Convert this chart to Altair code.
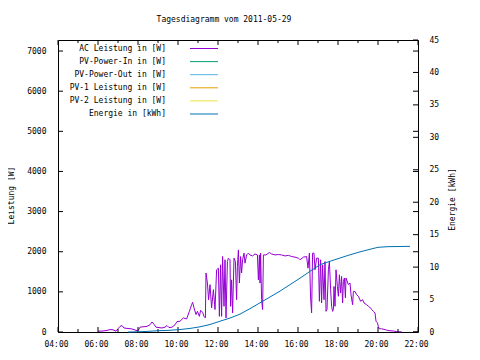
import altair as alt
import pandas as pd

# ---- data ----
ac_hours = [6.0, 6.25, 6.45, 6.6, 6.75, 6.9, 7.0, 7.1, 7.2, 7.3, 7.45, 7.65, 7.8, 7.9, 8.0, 8.1, 8.25, 8.45,
            8.6, 8.7, 8.8, 8.9, 9.05, 9.2, 9.35, 9.45, 9.55, 9.7, 9.85, 9.95, 10.1, 10.27, 10.43, 10.57, 10.68,
            10.73, 10.8, 10.9, 10.97, 11.07, 11.13, 11.23, 11.3, 11.37, 11.4, 11.47, 11.53, 11.6, 11.68, 11.77,
            11.85, 11.93, 12.02, 12.07, 12.13, 12.18, 12.23, 12.3, 12.35, 12.4, 12.47, 12.52, 12.6, 12.63, 12.68,
            12.73, 12.8, 12.87, 12.93, 12.97, 13.02, 13.07, 13.13, 13.18, 13.23, 13.3, 13.35, 13.43, 13.52, 13.6,
            13.73, 13.85, 13.97, 14.02, 14.07, 14.1, 14.13, 14.18, 14.23, 14.27, 14.4, 14.57, 14.68, 14.85, 15.02,
            15.18, 15.35, 15.52, 15.68, 15.85, 16.02, 16.1, 16.27, 16.43, 16.5, 16.57, 16.63, 16.68, 16.73, 16.8,
            16.85, 16.93, 17.02, 17.07, 17.13, 17.18, 17.23, 17.3, 17.35, 17.4, 17.45, 17.52, 17.57, 17.63, 17.68,
            17.73, 17.77, 17.8, 17.85, 17.9, 17.97, 18.02, 18.07, 18.13, 18.18, 18.23, 18.27, 18.32, 18.37, 18.4,
            18.52, 18.6, 18.65, 18.73, 18.77, 18.85, 18.93, 19.02, 19.13, 19.23, 19.3, 19.43, 19.52, 19.63, 19.68,
            19.77, 19.85, 19.9, 19.97, 20.02, 20.07, 20.18, 20.35, 20.43, 20.6, 20.77, 20.93, 21.1, 21.18]
ac_watts = [20, 25, 40, 60, 55, 20, 80, 140, 160, 100, 90, 80, 60, 40, 30, 120, 130, 140,
            180, 250, 190, 120, 110, 100, 120, 160, 110, 120, 180, 260, 268, 350, 325, 515, 680,
            740, 600, 435, 515, 390, 540, 490, 390, 350, 1470, 1220, 805, 1180, 600, 1055,
            560, 1550, 1590, 390, 1675, 390, 1880, 640, 1800, 350, 1755, 1840, 1800, 640, 1300,
            475, 1840, 1755, 805, 1630, 2045, 1220, 1880, 1470, 1800, 1965, 1715, 1920, 1965, 1920,
            1895, 1945, 1920, 1300, 1920, 1220, 1965, 805, 560, 1920, 1920, 1980, 1945, 1920, 1930,
            1920, 1895, 1910, 1880, 1865, 1840, 1800, 1865, 1880, 1590, 1965, 850, 475, 1965, 1965,
            1550, 1840, 1840, 765, 1800, 725, 1675, 805, 1755, 515, 560, 1550, 1755, 1055, 640,
            515, 560, 1135, 640, 1550, 1135, 890, 1425, 970, 1385, 725, 1260, 1345, 850, 1345,
            1180, 1220, 930, 680, 1010, 1010, 930, 890, 765, 805, 725, 680, 640, 600, 560,
            515, 475, 270, 230, 130, 80, 80, 60, 45, 30, 25, 10, 5, 5]

en_hours = [7.5, 8.0, 8.5, 9.0, 9.5, 10.1, 10.6, 11.1, 11.6, 12.1, 12.6, 13.1, 13.6, 14.1, 14.6, 15.1,
            15.6, 16.1, 16.6, 17.1, 17.6, 18.1, 18.6, 19.1, 19.6, 20.0, 20.5, 21.6]
en_kwh = [0.0, 0.03, 0.1, 0.2, 0.25, 0.38, 0.55, 0.8, 1.15, 1.66, 2.15, 2.75, 3.6, 4.5, 5.4, 6.3,
          7.3, 8.3, 9.35, 10.38, 10.9, 11.4, 11.9, 12.35, 12.75, 13.05, 13.15, 13.2]

legend_names = ["AC Leistung in [W]", "PV-Power-In in [W]", "PV-Power-Out in [W]",
                "PV-1 Leistung in [W]", "PV-2 Leistung in [W]", "Energie in [kWh]"]
legend_colors = ["#9400D3", "#009E73", "#56B4E9", "#E69F00", "#F0E442", "#0072B2"]

x_major = [4, 6, 8, 10, 12, 14, 16, 18, 20, 22]
x_minor = [5, 7, 9, 11, 13, 15, 17, 19, 21]
w_ticks = [0, 1000, 2000, 3000, 4000, 5000, 6000, 7000]
e_ticks = [0, 5, 10, 15, 20, 25, 30, 35, 40, 45]

FONT = "DejaVu Sans Mono"
W, H = 360, 292

ac_df = pd.DataFrame({"h": ac_hours, "w": ac_watts})
en_df = pd.DataFrame({"h": en_hours, "e": en_kwh})
leg_df = pd.DataFrame({"name": legend_names, "color": legend_colors})
xmaj_df = pd.DataFrame({"h": x_major})
xmin_df = pd.DataFrame({"h": x_minor})
wt_df = pd.DataFrame({"w": w_ticks})
et_df = pd.DataFrame({"e": e_ticks})

x_scale = alt.Scale(domain=[4, 22], nice=False, zero=False)
x_axis = alt.Axis(values=x_major, labelExpr="(datum.value < 10 ? '0' : '') + datum.value + ':00'",
                  ticks=False, domain=False, grid=False, title=None, labelPadding=8,
                  labelFont=FONT, labelFontSize=8, labelColor="black", labelOffset=-2,
                  labelFlush=False, labelOverlap=False)
xenc = alt.X("h:Q", scale=x_scale, axis=x_axis)

w_scale = alt.Scale(domain=[0, 7275], nice=False)
w_axis = alt.Axis(orient="left", values=w_ticks, format="d", ticks=False, domain=False, grid=False,
                  title="Leistung [W]", titleFont=FONT, titleFontSize=8, titleFontWeight="normal",
                  titleAngle=270, titleX=-47, titleY=155, titleAlign="center", titleBaseline="middle",
                  labelFont=FONT, labelFontSize=8, labelPadding=12, labelColor="black",
                  labelFlush=False, labelOverlap=False)
wenc = alt.Y("w:Q", scale=w_scale, axis=w_axis)

e_scale = alt.Scale(domain=[0, 45], nice=False)
e_axis = alt.Axis(orient="right", values=e_ticks, format="d", ticks=False, domain=False, grid=False,
                  title="Energie [kWh]", titleFont=FONT, titleFontSize=8, titleFontWeight="normal",
                  titleAngle=270, titleX=34, titleY=159, titleAlign="center", titleBaseline="middle",
                  labelFont=FONT, labelFontSize=8, labelPadding=11, labelColor="black",
                  labelFlush=False, labelOverlap=False)
eenc = alt.Y("e:Q", scale=e_scale, axis=e_axis)

# x ticks (bottom and top, inward)
def xticks(df, length):
    bottom = alt.Chart(df).mark_rule(color="black", strokeWidth=1).encode(
        x=xenc, y=alt.value(H), y2=alt.value(H - length))
    top = alt.Chart(df).mark_rule(color="black", strokeWidth=1).encode(
        x=xenc, y=alt.value(0), y2=alt.value(length))
    return [bottom, top]

ac_line = alt.Chart(ac_df).mark_line(color="#9400D3", strokeWidth=1).encode(x=xenc, y=wenc)
w_left = alt.Chart(wt_df).mark_rule(color="black").encode(y=wenc, x=alt.value(0), x2=alt.value(5))
w_right = alt.Chart(wt_df).mark_rule(color="black").encode(y=wenc, x=alt.value(W), x2=alt.value(W - 5))
left_group = alt.layer(ac_line, w_left, w_right, *xticks(xmaj_df, 5), *xticks(xmin_df, 3))

en_line = alt.Chart(en_df).mark_line(color="#0072B2", strokeWidth=1).encode(x=xenc, y=eenc)
e_right = alt.Chart(et_df).mark_rule(color="black").encode(y=eenc, x=alt.value(W), x2=alt.value(W - 5))
right_group = alt.layer(en_line, e_right)

leg_y = alt.Y("name:N", sort=legend_names,
              scale=alt.Scale(type="point", range=[8.5, 74], padding=0), axis=None)
leg_color = alt.Color("name:N", scale=alt.Scale(domain=legend_names, range=legend_colors), legend=None)
leg_text = alt.Chart(leg_df).mark_text(align="right", baseline="middle", font=FONT, fontSize=8,
                                       color="black").encode(
    y=leg_y, x=alt.value(108), text="name:N")
leg_line = alt.Chart(leg_df).mark_rule(strokeWidth=1).encode(
    y=leg_y, x=alt.value(132), x2=alt.value(160), color=leg_color)
legend_group = alt.layer(leg_text, leg_line)

chart = alt.layer(left_group, right_group, legend_group).resolve_scale(y="independent").properties(
    width=W, height=H,
    title=alt.TitleParams("Tagesdiagramm vom 2011-05-29", font=FONT, fontSize=8, fontWeight="normal",
                          anchor="middle", frame="group", dx=-14, offset=6, baseline="alphabetic",
                          color="black"),
    autosize=alt.AutoSizeParams(type="none"),
    padding={"left": 50, "top": 32, "right": 54, "bottom": 20},
    background="white",
).configure_view(stroke="black", strokeWidth=1)

chart.save("out.html", embed_options={"renderer": "svg", "actions": False})
